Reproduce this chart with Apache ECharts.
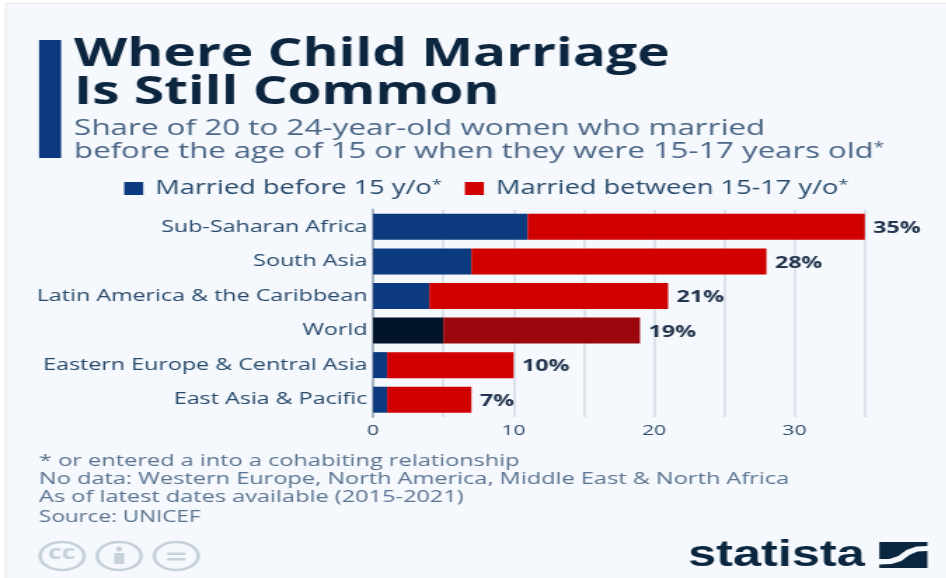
<!DOCTYPE html>
<html><head><meta charset="utf-8">
<style>
html,body{margin:0;padding:0;background:#fff;overflow:hidden}
#stage{position:absolute;left:0;top:0;height:578px;transform-origin:0 0;filter:blur(0.45px)}
</style>
<script src="https://cdn.jsdelivr.net/npm/echarts@6/dist/echarts.min.js"></script>
</head><body><div id="stage"></div>
<script>
const categories=["Sub-Saharan Africa","South Asia","Latin America & the Caribbean","World","Eastern Europe & Central Asia","East Asia & Pacific"];
const before15=[11,7,4,5,1,1];
const between15to17=[24,21,17,14,9,6];
const totals=[35,28,21,19,10,7];
const tickLabels=[0,10,20,30];
const S=1.4;
const X=v=>v/S;
const el=document.getElementById('stage');
el.style.width=(946/S)+'px';
el.style.transform='scaleX('+S+')';
const chart=echarts.init(el,null,{renderer:'canvas',width:946/S,height:578});
const F='"Open Sans"';
const navy='#0b3b7e',red='#d00000',ink='#0d2640',sub='#4a6585',foot='#5a7390',logo='#0b2740',cc='#c6d1da';
const txt=(x,y,t,size,color,weight,font,rich)=>({type:'text',left:X(x),top:y,silent:true,style:{text:t,fontFamily:font||F,fontSize:size,fill:color,fontWeight:weight||400,rich:rich}});
const pts=a=>a.map(p=>[X(p[0]),p[1]]);
const opt={
 animation:false,backgroundColor:'#fff',
 legend:{top:179,left:X(124),padding:0,itemWidth:X(19),itemHeight:13,itemGap:X(23),icon:'rect',
   formatter:n=>n.replace('*','{s|*}'),
   textStyle:{fontFamily:F,fontSize:19.4,color:'#274a6c',padding:[0,0,0,X(5)],rich:{s:{fontFamily:F,fontSize:13,color:'#274a6c',verticalAlign:'top'}}},
   data:['Married before 15 y/o*','Married between 15-17 y/o*']},
 grid:{left:X(372.5),right:X(946-863.5),top:209.5,bottom:578-417},
 xAxis:{type:'value',min:0,max:35,interval:5,
   axisLine:{show:false},axisTick:{show:false},
   splitLine:{lineStyle:{color:'#d5dce6',width:1.5}},
   axisLabel:{fontFamily:F,fontSize:15,color:'#34506e',margin:6,formatter:v=>tickLabels.includes(v)?String(v):''}},
 yAxis:{type:'category',inverse:true,data:categories,
   axisLine:{lineStyle:{color:'#aab5c4',width:2}},axisTick:{show:false},
   axisLabel:{fontFamily:F,fontSize:16.6,color:'#274a6c',margin:4,padding:[4,0,0,0]}},
 series:[
  {name:'Married before 15 y/o*',type:'bar',stack:'a',barWidth:26,itemStyle:{color:navy},
   data:before15.map((v,i)=>categories[i]==='World'?{value:v,itemStyle:{color:'#001328'}}:v)},
  {name:'Married between 15-17 y/o*',type:'bar',stack:'a',itemStyle:{color:red},
   data:between15to17.map((v,i)=>categories[i]==='World'?{value:v,itemStyle:{color:'#9c070e'}}:v)},
  {name:'total',type:'bar',stack:'a',itemStyle:{color:'transparent'},
   label:{show:true,position:'right',distance:6,offset:[0,1.5],fontFamily:F,fontSize:16.6,fontWeight:700,color:'#22344d',
     formatter:p=>totals[p.dataIndex]+'%'},
   data:totals.map(()=>0)}
 ],
 graphic:[
  {type:'rect',left:X(5),top:3,silent:true,z:-10,shape:{width:X(941),height:575},style:{fill:'#f5f8fc',stroke:'#e6e8ec',lineWidth:1}},
  {type:'rect',left:X(39),top:40,silent:true,shape:{width:X(22),height:118},style:{fill:navy}},
  txt(74,35,'Where Child Marriage',39.2,ink,700),
  txt(74,73,'Is Still Common',39.2,ink,700),
  txt(74,118,'Share of 20 to 24-year-old women who married',22.4,sub),
  txt(74,141,'before the age of 15 or when they were 15-17 years old{s|*}',22.2,sub,400,null,{s:{fontFamily:F,fontSize:14,fill:sub,verticalAlign:'top'}}),
  txt(39,452.5,'* or entered a into a cohabiting relationship',16.8,foot),
  txt(39,470.5,'No data: Western Europe, North America, Middle East & North Africa',16.8,foot),
  txt(39,488.5,'As of latest dates available (2015-2021)',16.8,foot),
  txt(39,509,'Source: UNICEF',16,foot),
  {type:'ellipse',silent:true,shape:{cx:X(62),cy:556,rx:X(22),ry:14},style:{fill:'none',stroke:cc,lineWidth:2.6}},
  {type:'ellipse',silent:true,shape:{cx:X(119),cy:556,rx:X(22),ry:14},style:{fill:'none',stroke:cc,lineWidth:2.6}},
  {type:'ellipse',silent:true,shape:{cx:X(176),cy:556,rx:X(22),ry:14},style:{fill:'none',stroke:cc,lineWidth:2.6}},
  {type:'text',silent:true,left:X(48),top:544,style:{text:'cc',fontFamily:F,fontSize:19,fontWeight:700,fill:cc}},
  {type:'ellipse',silent:true,shape:{cx:X(119),cy:549,rx:X(3),ry:2.5},style:{fill:cc}},
  {type:'rect',silent:true,shape:{x:X(114),y:553,width:X(10),height:11},style:{fill:cc}},
  {type:'rect',silent:true,shape:{x:X(167),y:552.5,width:X(18),height:2.5},style:{fill:cc}},
  {type:'rect',silent:true,shape:{x:X(167),y:558,width:X(18),height:2.5},style:{fill:cc}},
  txt(687,538,'statista',36,logo,700,'"Liberation Sans"'),
  {type:'polygon',silent:true,shape:{points:pts([[878,542],[926,542],[926,546],[915,546.5],[905,550],[897,556],[888,559],[878,559]])},style:{fill:logo}},
  {type:'polygon',silent:true,shape:{points:pts([[926,551],[916,551.5],[908,555],[900,561],[890,564],[878,564.5],[878,568],[926,568]])},style:{fill:logo}}
 ]
};
chart.setOption(opt);
</script></body></html>
